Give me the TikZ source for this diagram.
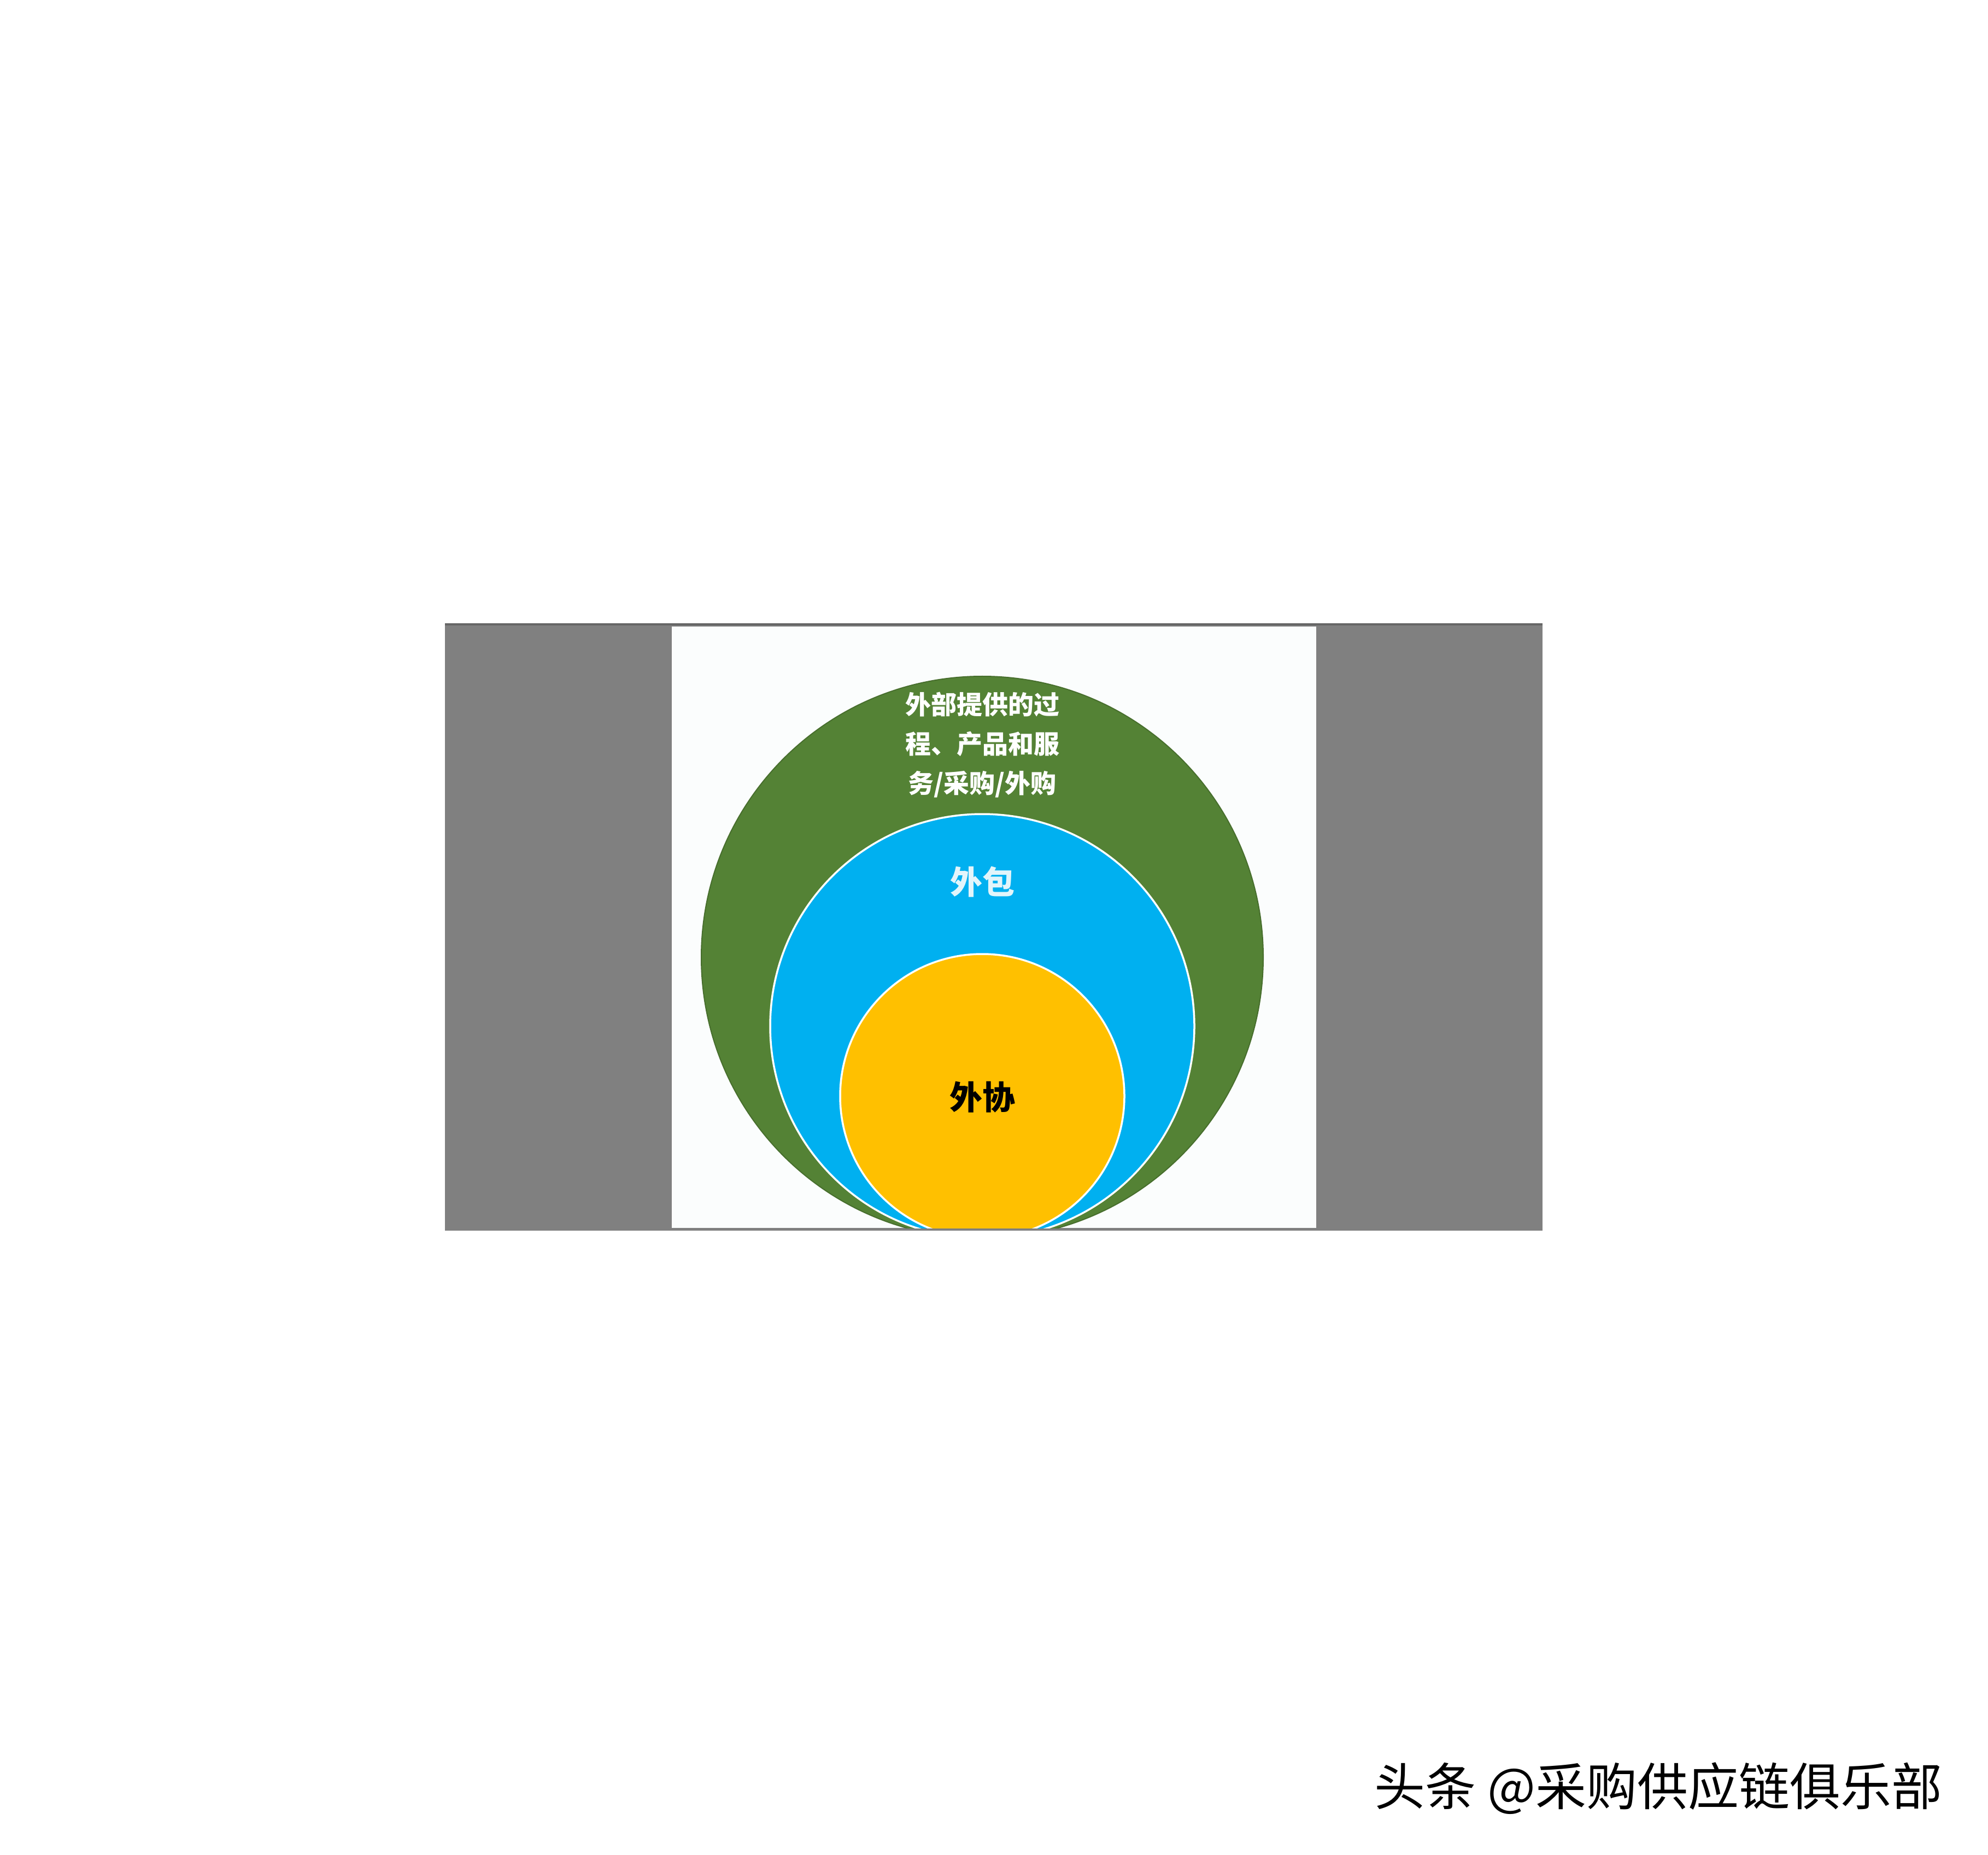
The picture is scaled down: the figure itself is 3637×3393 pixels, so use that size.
\documentclass[tikz,border=0pt]{standalone}
\usepackage{fontspec}
\newfontfamily\cjk{Noto Sans CJK SC}

\definecolor{panelgray}{RGB}{128,128,128}
\definecolor{panelwhite}{RGB}{251,253,253}
\definecolor{outergreen}{RGB}{84,130,53}
\definecolor{midblue}{RGB}{0,176,240}
\definecolor{coreyellow}{RGB}{255,192,0}
\definecolor{paletext}{RGB}{226,245,251}

\tikzset{every picture/.style={line width=0.6pt},
  ringline/.style={draw=white,line width=0.7pt},
  ringtext/.style={font=\cjk\bfseries, inner sep=0.75pt, align=center}}

\begin{document}
\begin{tikzpicture}[x=0.2pt,y=0.2pt,yscale=-1,xscale=1]
%set diagram size to the full page
\useasboundingbox (0,0) rectangle (3637,3393);

%Shape: Rectangle [id:dp_gray]
\draw [fill=panelgray, draw=none] (814,1141) rectangle (2822,2251) ;
\draw [color=black!60, line width=0.8pt] (814,1142) -- (2822,1142) ;
%Shape: Rectangle [id:dp_white]
\draw [fill=panelwhite, draw=none] (1229,1146) rectangle (2408,2246) ;

\begin{scope}
  \clip (1229,1146) rectangle (2408,2246) ;
  %Shape: Circle [id:dp_green]
  \draw [fill=outergreen, draw=outergreen!85!black, line width=0.4pt] (1797,1751) circle [radius=514] ;
  %Shape: Circle [id:dp_blue]
  \draw [fill=midblue, ringline] (1797,1877) circle [radius=388] ;
  %Shape: Circle [id:dp_yellow]
  \draw [fill=coreyellow, ringline] (1797,2005) circle [radius=260] ;
\end{scope}

\draw (1797,1362) node (extsrc) [ringtext, text=white, font=\cjk\bfseries\fontsize{9.4}{14.4}\selectfont]  {外部提供的过\\程、产品和服\\务/采购/外购};
\draw (1797,1613) node (outsrc) [ringtext, text=paletext, font=\cjk\bfseries\fontsize{11.8}{14}\selectfont]  {外包};
\draw (1797,2007) node (subcon) [ringtext, text=black, font=\cjk\bfseries\fontsize{12}{14}\selectfont]  {外协};

\draw (3555,3271) node (mark) [anchor=east][inner sep=0pt, font=\cjk\fontsize{18.6}{20}\selectfont]  {头条 @采购供应链俱乐部};

\end{tikzpicture}
\end{document}
